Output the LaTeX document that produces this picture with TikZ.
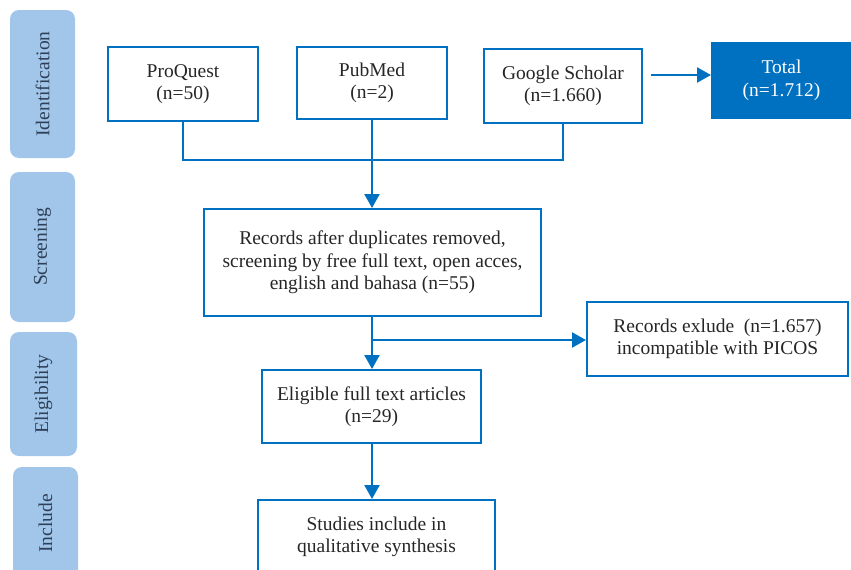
\documentclass[tikz,border=0pt]{standalone}
\usepackage{fontspec}
\setmainfont{Liberation Serif}
\usetikzlibrary{arrows.meta}
\definecolor{boxblue}{HTML}{0070C0}
\definecolor{stagefill}{HTML}{A2C6EA}
\definecolor{stagetext}{HTML}{2E3F57}
\begin{document}
\begin{tikzpicture}[x=1pt,y=-1pt,
  stage/.style={fill=stagefill, rounded corners=9pt, rotate=90, text=stagetext,
    font=\fontsize{19.5}{22}\selectfont, inner sep=0pt},
  item/.style={draw=boxblue, line width=2pt, align=center, inner sep=0pt,
    font=\fontsize{19.5}{22.5}\selectfont, text=black!85},
  link/.style={draw=boxblue, line width=2.4pt},
  tip/.style={-{Triangle[length=14pt,width=15pt]}}]
\useasboundingbox (0,0) rectangle (851,570);
\clip (0,0) rectangle (851,570);

\node[stage, minimum width=148, minimum height=65] (ident) at (42.5,84) {Identification};
\node[stage, minimum width=150, minimum height=65] (screen) at (42.5,247) {Screening};
\node[stage, minimum width=124, minimum height=67] (elig) at (43.5,394) {Eligibility};
\node[stage, minimum width=113, minimum height=65] (incl) at (45.5,523.5) {Include};

\node[item, minimum width=150, minimum height=74] (proquest) at (183,84) {ProQuest\\(n=50)};
\node[item, minimum width=150, minimum height=72] (pubmed) at (372,83) {PubMed\\(n=2)};
\node[item, minimum width=158, minimum height=74] (google) at (563,86) {Google Scholar\\(n=1.660)};
\node[item, fill=boxblue, text=white, minimum width=139, minimum height=75] (total) at (781.5,80.5) {Total\\(n=1.712)};

\node[item, minimum width=337, minimum height=107] (records) at (372.5,262.5) {Records after duplicates removed,\\screening by free full text, open acces,\\english and bahasa (n=55)};
\node[item, minimum width=261, minimum height=74] (exclude) at (717.5,339) {Records exlude\ \ (n=1.657)\\incompatible with PICOS};
\node[item, minimum width=219, minimum height=73] (eligible) at (371.5,406.5) {Eligible full text articles\\(n=29)};
\node[item, minimum width=237, minimum height=74] (studies) at (376.5,537) {Studies include in\\qualitative synthesis};

\coordinate (gout) at (651,75);
\coordinate (split) at (372,340);

\path[link,tip] (gout) -- (gout -| total.west);
\path[link] (proquest.south) -- ++(0,38) -| (google.south);
\path[link,tip] (pubmed.south) -- (pubmed.south |- records.north);
\path[link,tip] (records.south -| split) -- (split |- eligible.north);
\path[link,tip] (split) -- (split -| exclude.west);
\path[link,tip] (eligible.south -| split) -- (split |- studies.north);
\end{tikzpicture}
\end{document}
